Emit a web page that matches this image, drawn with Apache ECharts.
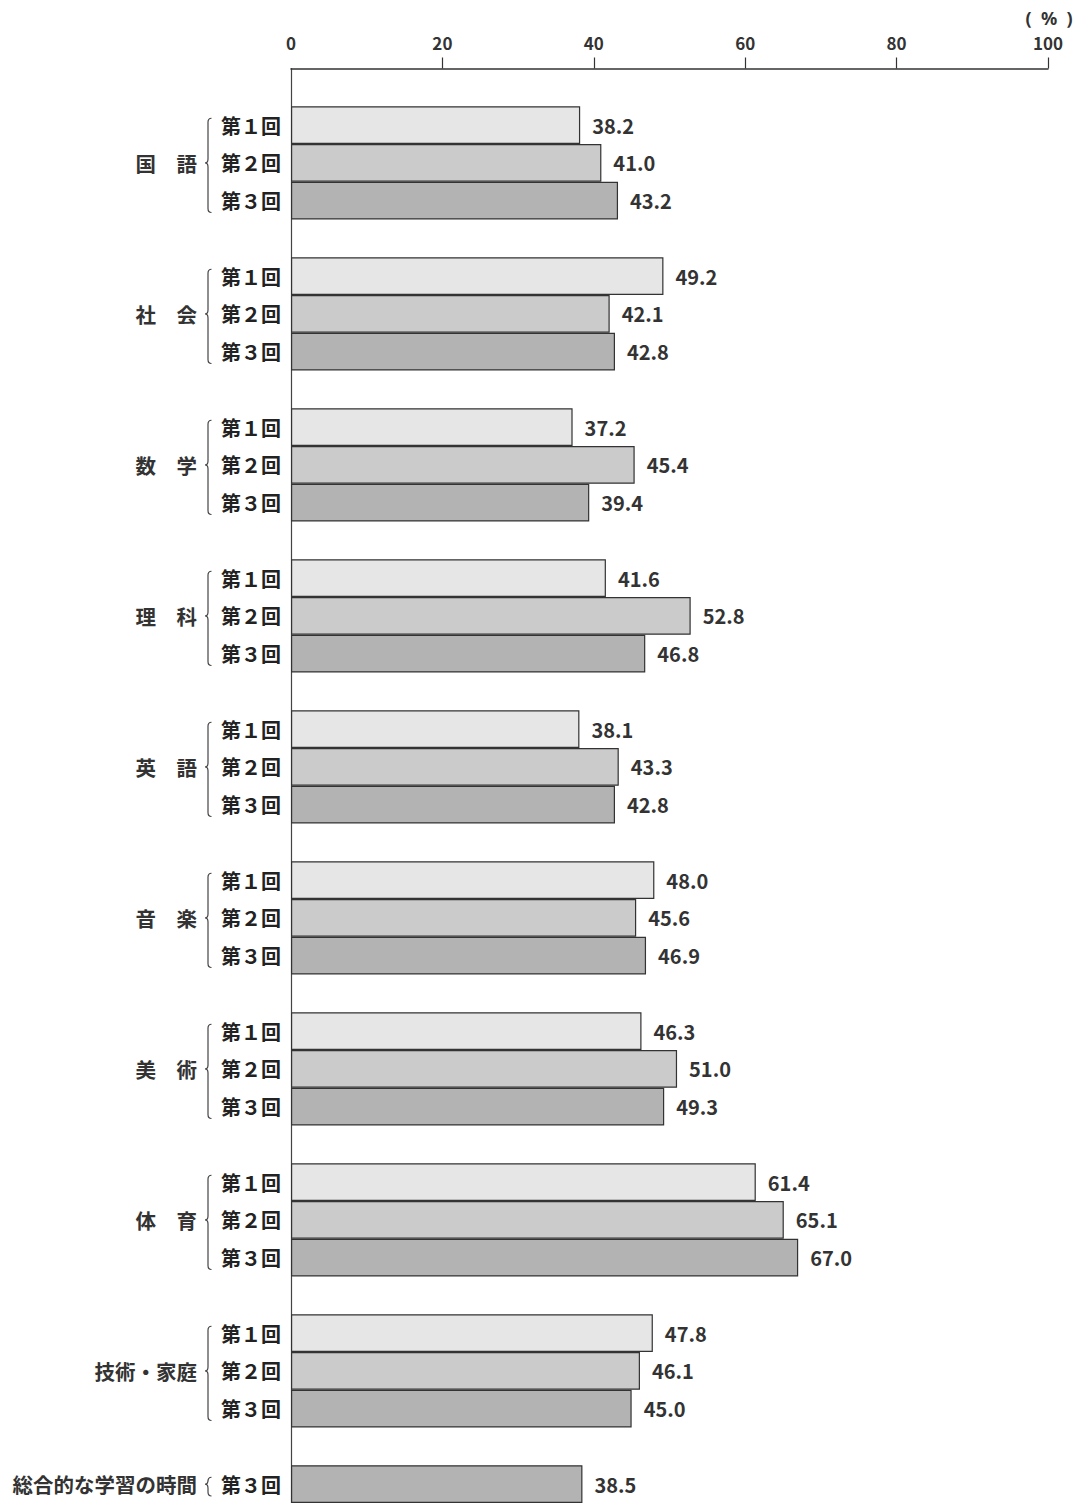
<!DOCTYPE html>
<html lang="ja">
<head>
<meta charset="utf-8">
<title>教科別 割合</title>
<script src="https://cdn.jsdelivr.net/npm/echarts@6/dist/echarts.min.js"></script>
<style>
  html, body { margin: 0; padding: 0; background: #fff; }
  #chart { width: 1083px; height: 1503px; }
</style>
</head>
<body>
<div id="chart"></div>
<script>
// 教科名（表示用）
const subjects = ['国　語', '社　会', '数　学', '理　科', '英　語', '音　楽', '美　術', '体　育', '技術・家庭', '総合的な学習の時間'];
// 調査回の名称
const roundNames = ['第１回', '第２回', '第３回'];
// 各回の値（％）。null はその回の調査なし
const round1 = [38.2, 49.2, 37.2, 41.6, 38.1, 48.0, 46.3, 61.4, 47.8, null];
const round2 = [41.0, 42.1, 45.4, 52.8, 43.3, 45.6, 51.0, 65.1, 46.1, null];
const round3 = [43.2, 42.8, 39.4, 46.8, 42.8, 46.9, 49.3, 67.0, 45.0, 38.5];
// 目盛り
const xTicks = [0, 20, 40, 60, 80, 100];
const unitLabel = '(  %  )';

const rounds = [round1, round2, round3];
const barColors = ['#e6e6e6', '#cbcbcb', '#b3b3b3'];
const FONT = '"Noto Sans CJK JP", "Noto Sans", sans-serif';

// 行（スロット）を組み立てる：教科ごとに空行1つ + 値のある回の行
const slotLabels = [];
const seriesData = rounds.map(() => []);
const groups = [];
subjects.forEach((name, si) => {
  slotLabels.push('');
  seriesData.forEach(d => d.push(null));
  let first = -1, last = -1;
  rounds.forEach((r, ri) => {
    if (r[si] == null) return;
    const idx = slotLabels.length;
    if (first < 0) first = idx;
    last = idx;
    slotLabels.push(roundNames[ri]);
    seriesData.forEach((d, k) => d.push(k === ri ? r[si] : null));
  });
  groups.push([0, first, last, si]);
});

const chart = echarts.init(document.getElementById('chart'), null, { renderer: 'svg' });

const barSeries = roundNames.map((rn, ri) => ({
  name: rn,
  type: 'bar',
  data: seriesData[ri],
  barWidth: '100%',
  barGap: '-100%',
  barCategoryGap: '0%',
  itemStyle: { color: barColors[ri], borderColor: '#333', borderWidth: 1.2 },
  label: {
    show: true,
    position: 'right',
    distance: 12,
    formatter: p => p.value == null ? '' : Number(p.value).toFixed(1),
    fontFamily: FONT,
    fontSize: 20,
    fontWeight: 'bold',
    color: '#333'
  },
  silent: true,
  animation: false
}));

// 教科名と中括弧
const braceSeries = {
  type: 'custom',
  data: groups,
  encode: { x: 0, y: 1 },
  clip: false,
  silent: true,
  animation: false,
  renderItem: (params, api) => {
    const first = api.value(1), last = api.value(2), si = api.value(3);
    const p0 = api.coord([0, first]);
    const p1 = api.coord([0, last]);
    const h = api.size([0, 1])[1];
    const top = p0[1] - h / 2 + 12;
    const bot = p1[1] + h / 2 - 7;
    const mid = (p0[1] + p1[1]) / 2;
    const x = p0[0] - 83;
    const c = Math.min(4, (bot - top) / 4);
    const path = [
      'M', x + 3.5, top,
      'Q', x, top, x, top + c,
      'L', x, mid - c,
      'Q', x, mid, x - 3, mid,
      'Q', x, mid, x, mid + c,
      'L', x, bot - c,
      'Q', x, bot, x + 3.5, bot
    ].join(' ');
    return {
      type: 'group',
      children: [
        {
          type: 'path',
          shape: { pathData: path },
          style: { fill: 'none', stroke: '#444', lineWidth: 1.2 }
        },
        {
          type: 'text',
          style: {
            text: subjects[si],
            x: x - 11,
            y: mid,
            align: 'right',
            verticalAlign: 'middle',
            fontFamily: FONT,
            fontSize: 20.5,
            fontWeight: 'bold',
            fill: '#333'
          }
        }
      ]
    };
  }
};

chart.setOption({
  animation: false,
  backgroundColor: '#fff',
  title: {
    text: unitLabel,
    left: 1049,
    top: 7,
    padding: 0,
    textAlign: 'center',
    textStyle: { fontFamily: '"Noto Sans", sans-serif', fontSize: 18, lineHeight: 22, fontWeight: 'bold', color: '#333' }
  },
  grid: { left: 291, right: 35, top: 68.5, height: 1437, containLabel: false },
  xAxis: {
    type: 'value',
    position: 'top',
    min: xTicks[0],
    max: xTicks[xTicks.length - 1],
    interval: xTicks[1] - xTicks[0],
    axisLine: { show: true, lineStyle: { color: '#333', width: 1.5 } },
    axisTick: { show: true, inside: false, length: 11, customValues: xTicks.slice(1), lineStyle: { color: '#333', width: 1.2 } },
    axisLabel: { fontFamily: FONT, fontSize: 17, fontWeight: 'bold', color: '#333', margin: 18 },
    splitLine: { show: false }
  },
  yAxis: {
    type: 'category',
    inverse: true,
    data: slotLabels,
    axisLine: { show: true, lineStyle: { color: '#444', width: 1.2 } },
    axisTick: { show: false },
    axisLabel: { interval: 0, fontFamily: FONT, fontSize: 20, fontWeight: 'bold', color: '#222', margin: 10 },
    splitLine: { show: false }
  },
  series: [...barSeries, braceSeries]
});
</script>
</body>
</html>
